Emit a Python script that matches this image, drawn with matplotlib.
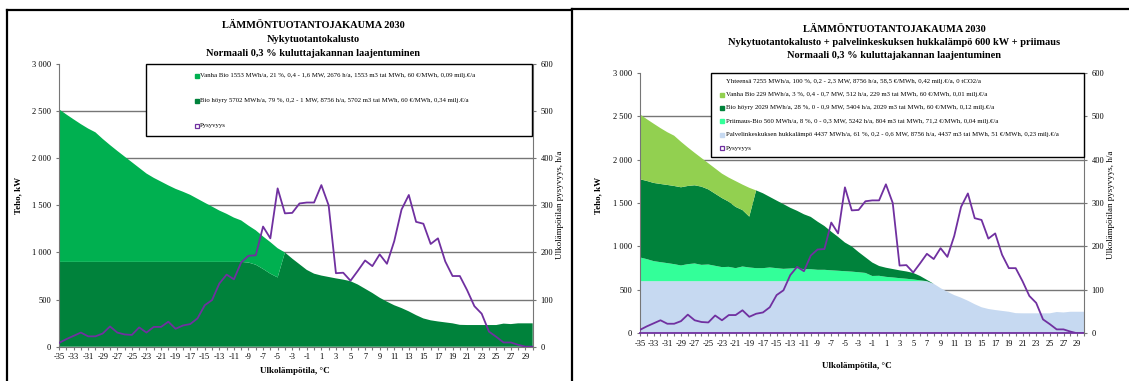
import numpy as np
import matplotlib
matplotlib.use("Agg")
import matplotlib.pyplot as plt
from matplotlib.lines import Line2D
from matplotlib.patches import Rectangle
from matplotlib.ticker import FuncFormatter, MultipleLocator, FixedLocator

plt.rcParams['font.family'] = ['Liberation Serif', 'DejaVu Serif']

W, H = 1129, 381

# Outdoor temperature categories, °C
temps = np.arange(-35, 31)

# Duration of outdoor temperature, h/a
pysyvyys = [8, 16, 23, 30, 22, 22, 28, 43, 30, 26,
            25, 41, 30, 42, 42, 53, 38, 45, 48, 60,
            88, 99, 134, 153, 143, 179, 193, 194, 255, 230,
            336, 283, 284, 304, 306, 306, 343, 300, 156, 157,
            140, 161, 183, 171, 196, 176, 224, 291, 322, 265,
            261, 218, 230, 181, 150, 150, 120, 86, 70, 32,
            21, 9, 9, 4, 0, 0]

# --- Current production fleet (kW) ---
vanha_bio_a = [1620, 1565, 1513, 1462, 1415, 1375, 1305, 1240, 1178, 1118,
               1058, 998, 938, 892, 852, 812, 775, 745, 712, 670,
               628, 587, 545, 510, 470, 440, 392, 365, 345, 335,
               310, 0, 0, 0, 0, 0, 0, 0, 0, 0,
               0, 0, 0, 0, 0, 0, 0, 0, 0, 0,
               0, 0, 0, 0, 0, 0, 0, 0, 0, 0,
               0, 0, 0, 0, 0, 0]
bio_hoyry_a = [900, 900, 900, 900, 900, 900, 900, 900, 900, 900,
               900, 900, 900, 900, 900, 900, 900, 900, 900, 900,
               900, 900, 900, 900, 900, 900, 893, 870, 825, 775,
               735, 1000, 935, 875, 815, 775, 755, 740, 725, 712,
               695, 660, 615, 570, 520, 478, 440, 410, 375, 335,
               300, 280, 268, 258, 248, 232, 230, 230, 230, 230,
               230, 245, 240, 248, 248, 248]

# --- Fleet + data centre waste heat + peak unit (kW) ---
hukkalampo_b = [600, 600, 600, 600, 600, 600, 600, 600, 600, 600,
                600, 600, 600, 600, 600, 600, 600, 600, 600, 600,
                600, 600, 600, 600, 600, 600, 600, 600, 600, 600,
                600, 600, 600, 600, 600, 600, 600, 600, 600, 600,
                600, 600, 600, 570, 520, 478, 440, 410, 375, 335,
                300, 280, 268, 258, 248, 232, 230, 230, 230, 230,
                230, 245, 240, 248, 248, 248]
priimaus_b = [273, 254, 231, 219, 208, 196, 181, 196, 204, 188,
              192, 177, 162, 165, 150, 169, 158, 150, 150, 158,
              150, 142, 146, 150, 138, 138, 131, 131, 125, 120,
              115, 110, 103, 95, 60, 62, 50, 43, 35, 28,
              20, 10, 0, 0, 0, 0, 0, 0, 0, 0,
              0, 0, 0, 0, 0, 0, 0, 0, 0, 0,
              0, 0, 0, 0, 0, 0]
bio_hoyry_b = [900, 900, 900, 900, 900, 900, 900, 900, 900, 900,
               865, 830, 795, 750, 705, 650, 585, 895, 862, 812,
               778, 745, 699, 660, 632, 602, 554, 504, 445, 390,
               330, 290, 232, 180, 155, 113, 105, 97, 90, 84,
               75, 50, 15, 0, 0, 0, 0, 0, 0, 0,
               0, 0, 0, 0, 0, 0, 0, 0, 0, 0,
               0, 0, 0, 0, 0, 0]
vanha_bio_b = [747, 711, 682, 643, 607, 579, 524, 444, 374, 330,
               301, 291, 281, 277, 297, 293, 332, 0, 0, 0,
               0, 0, 0, 0, 0, 0, 0, 0, 0, 0,
               0, 0, 0, 0, 0, 0, 0, 0, 0, 0,
               0, 0, 0, 0, 0, 0, 0, 0, 0, 0,
               0, 0, 0, 0, 0, 0, 0, 0, 0, 0,
               0, 0, 0, 0, 0, 0]

title_1 = "LÄMMÖNTUOTANTOJAKAUMA 2030"
title_3 = "Normaali 0,3 % kuluttajakannan laajentuminen"
subtitle_a = "Nykytuotantokalusto"
subtitle_b = "Nykytuotantokalusto + palvelinkeskuksen hukkalämpö 600 kW + priimaus"

legend_a = [
    ("Vanha Bio 1553 MWh/a, 21 %, 0,4 - 1,6 MW, 2676 h/a, 1553 m3 tai MWh, 60 €/MWh, 0,09 milj.€/a", "#00B050"),
    ("Bio höyry 5702 MWh/a, 79 %, 0,2 - 1 MW, 8756 h/a, 5702 m3 tai MWh, 60 €/MWh, 0,34 milj.€/a", "#00823B"),
    ("Pysyvyys", None),
]
legend_b = [
    ("Yhteensä 7255 MWh/a, 100 %, 0,2 - 2,3 MW, 8756 h/a, 58,5 €/MWh, 0,42 milj.€/a, 0 tCO2/a", "none"),
    ("Vanha Bio 229 MWh/a, 3 %, 0,4 - 0,7 MW, 512 h/a, 229 m3 tai MWh, 60 €/MWh, 0,01 milj.€/a", "#92D050"),
    ("Bio höyry 2029 MWh/a, 28 %, 0 - 0,9 MW, 5404 h/a, 2029 m3 tai MWh, 60 €/MWh, 0,12 milj.€/a", "#00823B"),
    ("Priimaus-Bio 560 MWh/a, 8 %, 0 - 0,3 MW, 5242 h/a, 804 m3 tai MWh, 71,2 €/MWh, 0,04 milj.€/a", "#33FF99"),
    ("Palvelinkeskuksen hukkalämpö 4437 MWh/a, 61 %, 0,2 - 0,6 MW, 8756 h/a, 4437 m3 tai MWh, 51 €/MWh, 0,23 milj.€/a", "#C6D9F1"),
    ("Pysyvyys", None),
]

PURPLE = "#7030A0"
GRID = "#767676"

fig = plt.figure(figsize=(W / 100, H / 100), dpi=100)


def fx(x):
    return x / W


def fy(y):
    return 1 - y / H


def kfmt(v, _):
    v = int(round(v))
    return f"{v:,}".replace(",", " ")


def make_panel(left, right, top, bottom, series, colors, bottom_color):
    ax = fig.add_axes([fx(left), fy(bottom), fx(right - left), (bottom - top) / H])
    ax.stackplot(temps, *series, colors=colors, linewidth=0, zorder=1)
    ax.set_xlim(-35, 30)
    ax.set_ylim(0, 3000)
    for g in range(500, 3000, 500):
        ax.axhline(g, color=GRID, lw=1.0, zorder=0.5)
    ax.yaxis.set_major_locator(MultipleLocator(500))
    ax.yaxis.set_major_formatter(FuncFormatter(kfmt))
    ax.xaxis.set_major_locator(FixedLocator(temps))
    ax.set_xticklabels([str(t) if t % 2 else "" for t in temps])
    ax.tick_params(axis='both', labelsize=6, length=2.5, width=0.8, color=GRID, direction='out')
    ax.tick_params(axis='x', pad=2)
    ax.tick_params(axis='y', pad=3)
    for s in ('top', 'right'):
        ax.spines[s].set_visible(False)
    ax.spines['left'].set_color(GRID)
    ax.spines['bottom'].set_color(bottom_color)
    ax.spines['bottom'].set_linewidth(1.3 if bottom_color == PURPLE else 0.8)
    ax.spines['bottom'].set_zorder(3)
    ax.patch.set_visible(False)

    ax2 = ax.twinx()
    ax2.plot(temps, pysyvyys, color=PURPLE, lw=1.3, zorder=4)
    ax2.set_ylim(0, 600)
    ax2.yaxis.set_major_locator(MultipleLocator(100))
    ax2.tick_params(axis='y', labelsize=6, length=2.5, width=0.8, color=GRID, pad=3)
    for s in ('top', 'left', 'bottom'):
        ax2.spines[s].set_visible(False)
    ax2.spines['right'].set_color(GRID)
    return ax, ax2


def legend_box(x0, x1, y0, y1, rows, marker_x, text_x):
    fig.add_artist(Rectangle((fx(x0), fy(y1)), fx(x1 - x0), (y1 - y0) / H,
                             transform=fig.transFigure, facecolor='white',
                             edgecolor='black', lw=1.0, zorder=10))
    for (label, color), y in rows:
        if color is None:
            fig.add_artist(Line2D([fx(marker_x)], [fy(y)], marker='s', ms=3.0,
                                  mfc='white', mec=PURPLE, mew=0.9, ls='none',
                                  transform=fig.transFigure, zorder=11))
        elif color != "none":
            fig.add_artist(Line2D([fx(marker_x)], [fy(y)], marker='s', ms=3.0,
                                  mfc=color, mec=color, ls='none',
                                  transform=fig.transFigure, zorder=11))
        fig.text(fx(text_x), fy(y), label, fontsize=4.9, ha='left', va='center', zorder=12)


# Left chart: current production fleet
make_panel(59, 532.7, 64, 346.7, [bio_hoyry_a, vanha_bio_a], ["#00823B", "#00B050"], GRID)
for txt, y in zip([title_1, subtitle_a, title_3], [25, 40, 53.3]):
    fig.text(fx(313), fy(y), txt, fontsize=7.5, fontweight='bold', ha='center', va='center')
fig.text(fx(18), fy(195), "Teho, kW", fontsize=6.5, fontweight='bold', rotation=90,
         ha='center', va='center')
fig.text(fx(560), fy(205), "Ulkolämpötilan pysyvyys, h/a", fontsize=6.5, rotation=90,
         ha='center', va='center')
fig.text(fx(294.5), fy(371), "Ulkolämpötila, °C", fontsize=6.5, fontweight='bold',
         ha='center', va='center')
legend_box(145.5, 531.6, 64, 136, zip(legend_a, [76, 100.7, 125.7]), 196.5, 200)

# Right chart: fleet + data centre waste heat + peak unit
make_panel(640, 1084, 72.7, 333.3,
           [hukkalampo_b, priimaus_b, bio_hoyry_b, vanha_bio_b],
           ["#C6D9F1", "#33FF99", "#00823B", "#92D050"], PURPLE)
for txt, y in zip([title_1, subtitle_b, title_3], [29.3, 42.7, 56]):
    fig.text(fx(894), fy(y), txt, fontsize=7.5, fontweight='bold', ha='center', va='center')
fig.text(fx(598), fy(195), "Teho, kW", fontsize=6.5, fontweight='bold', rotation=90,
         ha='center', va='center')
fig.text(fx(1111), fy(205), "Ulkolämpötilan pysyvyys, h/a", fontsize=6.5, rotation=90,
         ha='center', va='center')
fig.text(fx(857), fy(366), "Ulkolämpötila, °C", fontsize=6.5, fontweight='bold',
         ha='center', va='center')
legend_box(711, 1084, 72.7, 157, zip(legend_b, [81, 94.5, 107.5, 121, 134.5, 148]), 721.5, 725.5)

# Chart frames
frame = dict(color='black', lw=1.6, transform=fig.transFigure, solid_capstyle='projecting')
fig.add_artist(Line2D([fx(6.5), fx(6.5)], [fy(10), fy(381)], **frame))
fig.add_artist(Line2D([fx(6.5), fx(570)], [fy(10), fy(10)], **frame))
fig.add_artist(Line2D([fx(572), fx(572)], [fy(9), fy(381)], **frame))
fig.add_artist(Line2D([fx(572), fx(1129)], [fy(9), fy(9)], **frame))

fig.savefig("out.png", dpi=100, facecolor='white')
